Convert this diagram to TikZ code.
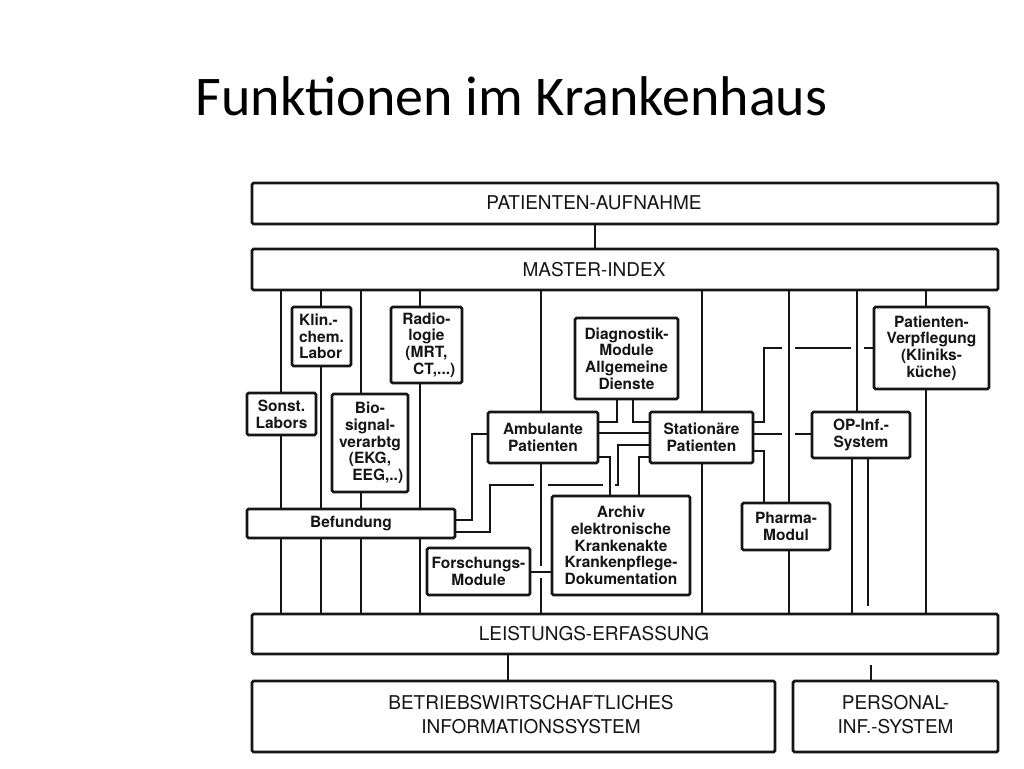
\documentclass[tikz,border=0pt]{standalone}
\usepackage{fontspec}
\setmainfont{TeX Gyre Heros}
\newfontfamily\titlefont{Carlito}
\usetikzlibrary{calc}
\definecolor{ink}{HTML}{151515}
\tikzset{
  mybox/.style={draw=ink, line width=2.6pt, rounded corners=1.5pt, inner sep=0pt, outer sep=0pt,
    align=center, text=ink, font=\fontsize{15.5}{16.7}\selectfont\bfseries},
  bar/.style={draw=ink, line width=2.8pt, rounded corners=1.5pt, inner sep=0pt, outer sep=0pt},
  bartext/.style={inner sep=0pt, align=center, text=ink, font=\fontsize{19}{24}\selectfont},
  conn/.style={draw=ink, line width=1.8pt},
}
\begin{document}
\begin{tikzpicture}[x=1pt,y=-1pt]
\useasboundingbox[fill=white] (0,0) rectangle (1024,768);
\node[anchor=base, inner sep=0pt, font=\titlefont\fontsize{56}{60}\selectfont] (title) at (511.5,115) {Funktionen im Krankenhaus};

% bars
\node[bar, minimum width=746pt, minimum height=41pt] (PA) at (625,203.5) {};
\node[bartext] (PAt) at (594,203) {PATIENTEN-AUFNAHME};
\node[bar, minimum width=746pt, minimum height=41pt] (MI) at (625,269.5) {};
\node[bartext] (MIt) at (594,269.5) {MASTER-INDEX};
\node[bar, minimum width=746pt, minimum height=40pt] (LE) at (625,634) {};
\node[bartext] (LEt) at (594,634) {LEISTUNGS-ERFASSUNG};
\node[bar, minimum width=523pt, minimum height=71pt] (BW) at (513.5,716.5) {};
\node[bartext] (BWt) at (531,714.5) {BETRIEBSWIRTSCHAFTLICHES\\INFORMATIONSSYSTEM};
\node[bar, minimum width=205pt, minimum height=71pt] (PE) at (895.5,716.5) {};
\node[bartext] (PEt) at (895.5,714.5) {PERSONAL-\\INF.-SYSTEM};

% module boxes
\node[mybox, minimum width=69pt, minimum height=42pt] (sonst) at (281.5,414) {Sonst.\\Labors};
\node[mybox, minimum width=59pt, minimum height=59pt, align=left] (klin) at (321.5,336.5) {Klin.-\\chem.\\Labor};
\node[mybox, minimum width=76pt, minimum height=98pt] (bio) at (370,443) {Bio-\\signal-\\verarbtg\\(EKG,\\\quad EEG,..)};
\node[mybox, minimum width=71pt, minimum height=76pt] (radio) at (426.5,345) {Radio-\\logie\\(MRT,\\\quad CT,...)};
\node[mybox, minimum width=208pt, minimum height=29pt] (bef) at (351,523.5) {Befundung};
\node[mybox, minimum width=110pt, minimum height=51pt] (amb) at (543,437.5) {Ambulante\\Patienten};
\node[mybox, minimum width=103pt, minimum height=81pt] (diag) at (626.5,358.5) {Diagnostik-\\Module\\Allgemeine\\Dienste};
\node[mybox, minimum width=103pt, minimum height=51pt] (stat) at (701.5,437.5) {Stationäre\\Patienten};
\node[mybox, minimum width=138pt, minimum height=99pt] (archiv) at (621,545.5) {Archiv\\elektronische\\Krankenakte\\Krankenpflege-\\Dokumentation};
\node[mybox, minimum width=103pt, minimum height=47pt] (forsch) at (478.5,571.5) {Forschungs-\\Module};
\node[mybox, minimum width=88pt, minimum height=47pt] (pharma) at (786,526.5) {Pharma-\\Modul};
\node[mybox, minimum width=98pt, minimum height=46pt] (op) at (861,435) {OP-Inf.-\\System};
\node[mybox, minimum width=115pt, minimum height=82pt] (pv) at (931.5,348) {Patienten-\\Verpflegung\\(Kliniks-\\küche)};

% x positions of vertical lines
\coordinate (xA) at (281,0);
\coordinate (xB) at (321,0);
\coordinate (xC) at (361,0);
\coordinate (xD) at (420,0);
\coordinate (xE) at (541,0);
\coordinate (xF) at (702,0);
\coordinate (xG) at (789,0);
\coordinate (xH) at (857,0);
\coordinate (xI) at (926,0);
\coordinate (xJ) at (852,0);
\coordinate (xK) at (868,0);
\coordinate (xL) at (595,0);
\coordinate (xM) at (508,0);
\coordinate (xN) at (871,0);

% verticals
\draw[conn] (PA.south -| xL) -- (MI.north -| xL);
\draw[conn] (LE.south -| xM) -- (BW.north -| xM);
\coordinate (nStart) at (871,665);
\draw[conn] (nStart) -- (PE.north -| xN);

\draw[conn] (MI.south -| xA) -- (sonst.north -| xA);
\draw[conn] (sonst.south -| xA) -- (bef.north -| xA);
\draw[conn] (bef.south -| xA) -- (LE.north -| xA);
\draw[conn] (MI.south -| xB) -- (klin.north -| xB);
\draw[conn] (klin.south -| xB) -- (bef.north -| xB);
\draw[conn] (bef.south -| xB) -- (LE.north -| xB);
\draw[conn] (MI.south -| xC) -- (bio.north -| xC);
\draw[conn] (bio.south -| xC) -- (bef.north -| xC);
\draw[conn] (bef.south -| xC) -- (LE.north -| xC);
\draw[conn] (MI.south -| xD) -- (radio.north -| xD);
\draw[conn] (radio.south -| xD) -- (bef.north -| xD);
\draw[conn] (bef.south -| xD) -- (LE.north -| xD);

\coordinate (eGap1) at (541,566);
\coordinate (eGap2) at (541,578);
\draw[conn] (MI.south -| xE) -- (amb.north -| xE);
\draw[conn] (amb.south -| xE) -- (eGap1);
\draw[conn] (eGap2) -- (LE.north -| xE);

\draw[conn] (MI.south -| xF) -- (stat.north -| xF);
\draw[conn] (stat.south -| xF) -- (LE.north -| xF);
\draw[conn] (MI.south -| xG) -- (pharma.north -| xG);
\draw[conn] (pharma.south -| xG) -- (LE.north -| xG);
\draw[conn] (MI.south -| xH) -- (op.north -| xH);
\draw[conn] (MI.south -| xI) -- (pv.north -| xI);
\draw[conn] (pv.south -| xI) -- (LE.north -| xI);
\draw[conn] (op.south -| xJ) -- (LE.north -| xJ);
\coordinate (kEnd) at (868,606);
\draw[conn] (op.south -| xK) -- (kEnd);

% Befundung -> Ambulante
\coordinate (a1) at (472,520);
\coordinate (a2) at (0,434);
\draw[conn] (bef.east |- a1) -- (a1) |- (amb.west |- a2);
% Befundung -> Stationaere
\coordinate (b1) at (490,532);
\coordinate (b2) at (534,485);
\coordinate (b3) at (548,485);
\coordinate (b4) at (603,485);
\coordinate (b5) at (615,485);
\coordinate (b6) at (618,445);
\draw[conn] (bef.east |- b1) -- (b1) |- (b2);
\draw[conn] (b3) -- (b4);
\draw[conn] (b5) -| (b6) -- (stat.west |- b6);
% Ambulante <-> Stationaere
\coordinate (c1) at (0,433);
\draw[conn] (amb.east |- c1) -- (stat.west |- c1);
% Diagnostik
\coordinate (d1) at (617,422);
\draw[conn] (diag.south -| d1) |- (amb.east |- d1);
\coordinate (e1) at (633,422);
\draw[conn] (diag.south -| e1) |- (stat.west |- e1);
% Archiv
\coordinate (f1) at (610,457);
\draw[conn] (amb.east |- f1) -| (archiv.north -| f1);
\coordinate (g1) at (639,457);
\draw[conn] (stat.west |- g1) -| (archiv.north -| g1);
\coordinate (h1) at (0,572);
\draw[conn] (forsch.east |- h1) -- (archiv.west |- h1);
% Stationaere -> right side
\coordinate (i1) at (764,422);
\coordinate (i2) at (782,348);
\coordinate (i3) at (795,348);
\coordinate (i4) at (851,348);
\coordinate (i5) at (864,348);
\draw[conn] (stat.east |- i1) -- (i1) |- (i2);
\draw[conn] (i3) -- (i4);
\draw[conn] (i5) -- (pv.west |- i5);
\coordinate (j1) at (782,434);
\coordinate (j2) at (795,434);
\draw[conn] (stat.east |- j1) -- (j1);
\draw[conn] (j2) -- (op.west |- j2);
\coordinate (k1) at (764,451);
\draw[conn] (stat.east |- k1) -| (pharma.north -| k1);
\end{tikzpicture}
\end{document}
